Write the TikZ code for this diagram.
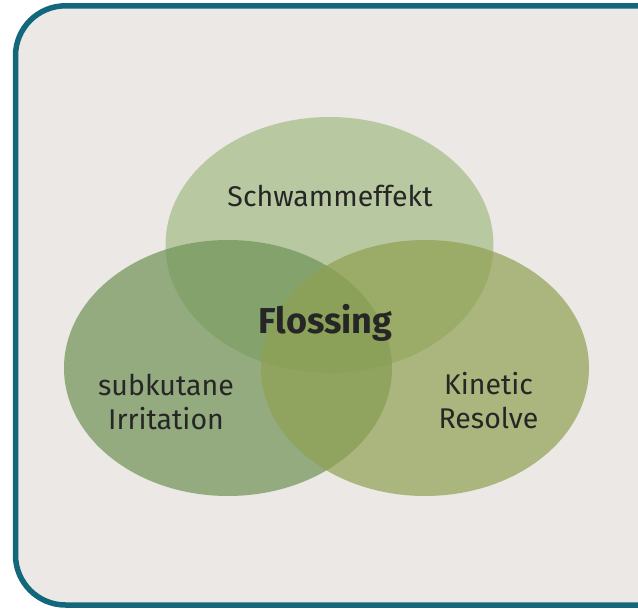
\documentclass[tikz,border=0pt]{standalone}
\usepackage{fontspec}
\setmainfont{Fira Sans}
\definecolor{framec}{HTML}{12677A}
\definecolor{bgc}{HTML}{ECE8E5}
\definecolor{topc}{RGB}{163,188,133}
\definecolor{leftc}{RGB}{110,146,85}
\definecolor{rightc}{RGB}{143,161,82}
\definecolor{txt}{HTML}{262626}
\tikzset{
  venn/.style={ellipse, minimum width=328pt, minimum height=256pt, inner sep=0pt, fill opacity=0.7},
  lbl/.style={text=txt, font=\fontsize{28.5}{34}\selectfont, align=center, inner sep=0pt},
}
\usetikzlibrary{shapes.geometric}
\begin{document}
\begin{tikzpicture}[x=1pt,y=-1pt]
\useasboundingbox (0,0) rectangle (638,610);
\fill[white] (0,0) rectangle (638,610);
\draw[framec, line width=5.5pt, fill=bgc, rounded corners=50pt] (15.5,5.8) rectangle (700,605);
\node[venn, fill=topc] (top) at (329.5,245) {};
\node[venn, fill=leftc] (left) at (228,368) {};
\node[venn, fill=rightc] (right) at (425,368) {};
\node[lbl, anchor=base] (t1) at (330,206) {Schwammeffekt};
\node[lbl, anchor=center] (t2) at (166,402) {subkutane\\Irritation};
\node[lbl, anchor=center] (t3) at (488.5,401) {Kinetic\\Resolve};
\node[lbl, anchor=base, font=\bfseries\fontsize{36}{40}\selectfont] (t4) at (325.5,333) {Flossing};
\end{tikzpicture}
\end{document}
